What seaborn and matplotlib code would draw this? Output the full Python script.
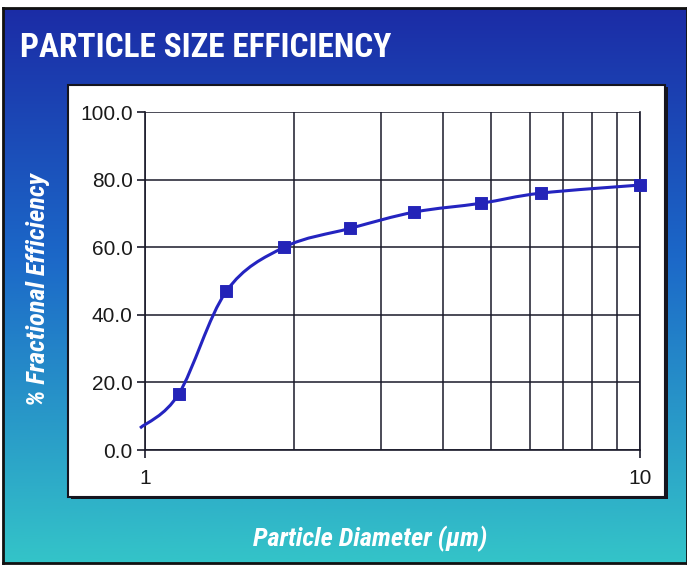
import numpy as np
import matplotlib
matplotlib.use("Agg")
import matplotlib.pyplot as plt
from matplotlib.path import Path
from matplotlib.patches import PathPatch, Rectangle
from matplotlib.colors import LinearSegmentedColormap
from matplotlib.ticker import NullFormatter
import seaborn as sns

# data
diameter = [0.977, 1.17, 1.46, 1.91, 2.6, 3.5, 4.77, 6.3, 10.0]
efficiency = [6.5, 16.6, 47.0, 60.0, 65.6, 70.4, 73.0, 76.0, 78.4]
marker_from = 1  # first point is only where the line starts
y_ticks = [0, 20, 40, 60, 80, 100]

sns.set_style("white")
plt.rcParams['font.family'] = ['Liberation Sans', 'DejaVu Sans']
condensed = ['Roboto Condensed', 'Liberation Sans Narrow', 'Liberation Sans']

fig = plt.figure(figsize=(6.87, 5.65), dpi=100)

# gradient background
bg = fig.add_axes([0.004, 0.004, 0.996, 0.982])
bg.set_zorder(-2)
grad = LinearSegmentedColormap.from_list("bg", [(0.0, "#1b2ca6"), (0.45, "#1c68c8"), (1.0, "#34c4c8")])
bg.imshow(np.linspace(0, 1, 256).reshape(-1, 1), aspect="auto", cmap=grad, extent=[0, 1, 0, 1])
bg.set_xticks([]); bg.set_yticks([])
for s in bg.spines.values():
    s.set_color("#111111"); s.set_linewidth(2)

# white panel with dark shadow
fig.patches.append(Rectangle((0.103, 0.116), 0.870, 0.730, transform=fig.transFigure,
                             facecolor="#15151f", edgecolor="none", zorder=-1))
fig.patches.append(Rectangle((0.099, 0.121), 0.869, 0.729, transform=fig.transFigure,
                             facecolor="white", edgecolor="#15151f", linewidth=1.5, zorder=-1))

fig.text(0.029, 0.899, "PARTICLE SIZE EFFICIENCY", color="white", fontsize=24,
         fontweight="bold", fontstretch="condensed", family=condensed,
         ha="left", va="baseline")

ax = fig.add_axes([0.2111, 0.2035, 0.7205, 0.5982])
ax.set_zorder(2)
ax.set_facecolor("none")
ax.set_xscale("log")
ax.set_xlim(1, 10)
ax.set_ylim(0, 100)

# smoothed line (Catmull-Rom bezier in log-x space, like a spreadsheet smoothed line)
lx = np.log10(diameter)
ly = np.array(efficiency, dtype=float)
n = len(lx)
verts = [(lx[0], ly[0])]
codes = [Path.MOVETO]
for i in range(n - 1):
    p0 = np.array([lx[max(i - 1, 0)], ly[max(i - 1, 0)]])
    p1 = np.array([lx[i], ly[i]])
    p2 = np.array([lx[i + 1], ly[i + 1]])
    p3 = np.array([lx[min(i + 2, n - 1)], ly[min(i + 2, n - 1)]])
    c1 = p1 + (p2 - p0) / 6
    c2 = p2 - (p3 - p1) / 6
    verts += [tuple(c1), tuple(c2), tuple(p2)]
    codes += [Path.CURVE4] * 3
verts = [(10 ** vx, vy) for vx, vy in verts]
ax.add_patch(PathPatch(Path(verts, codes), facecolor="none", edgecolor="#2424c0",
                       linewidth=2.2, clip_on=False, zorder=4))

sns.scatterplot(x=diameter[marker_from:], y=efficiency[marker_from:], marker="s", s=70,
                color="#2424b8", edgecolor="#2424b8", ax=ax, zorder=5, clip_on=False)

ax.set_yticks(y_ticks)
ax.set_yticklabels([f"{v:.1f}" for v in y_ticks])
ax.set_xticks([1, 10])
ax.set_xticklabels(["1", "10"])
ax.set_xticks([2, 3, 4, 5, 6, 7, 8, 9], minor=True)
ax.xaxis.set_minor_formatter(NullFormatter())
ax.grid(True, which="both", color="#1a1a2a", linewidth=1.1)
ax.tick_params(axis="y", direction="out", length=6, width=1.2, color="#1a1a2a",
               labelsize=15, pad=3, left=True)
ax.tick_params(axis="x", which="major", direction="out", length=6, width=1.2,
               color="#1a1a2a", labelsize=15, pad=8, bottom=True)
ax.tick_params(axis="x", which="minor", length=0)
for lbl in ax.get_xticklabels() + ax.get_yticklabels():
    lbl.set_color("#1a1a1a")
for s in ["left", "bottom", "top", "right"]:
    ax.spines[s].set_color("#1a1a2a")
    ax.spines[s].set_linewidth(1.2)
ax.spines["top"].set_visible(False)

fig.text(0.539, 0.046, "Particle Diameter (\u00b5m)", color="white", fontsize=19,
         fontstyle="italic", fontweight="bold", family=condensed, ha="center", va="center")
fig.text(0.055, 0.487, "% Fractional Efficiency", color="white", fontsize=19,
         fontstyle="italic", fontweight="bold", family=condensed, rotation=90,
         ha="center", va="center")

fig.savefig("out.png", dpi=100)
